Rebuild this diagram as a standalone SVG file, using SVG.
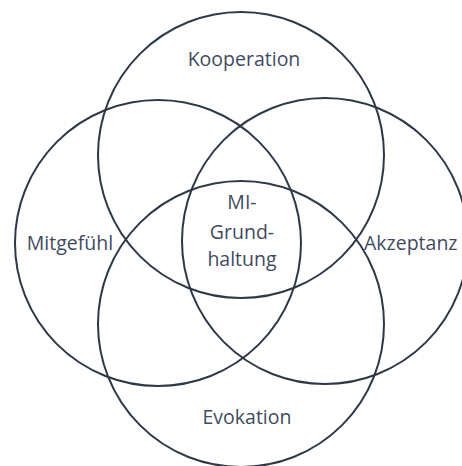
<svg xmlns="http://www.w3.org/2000/svg" width="462" height="466" viewBox="0 0 462 466">
<style>
.c{fill:none;stroke:#2e3847;stroke-width:2}
.t{font-family:"Open Sans","Noto Sans","Liberation Sans",sans-serif;font-size:19.5px;fill:#3f4b60;text-anchor:middle}
</style>
<rect width="462" height="466" fill="#ffffff"/>
<g id="connectors"></g>
<g id="kooperation"><circle class="c" cx="241" cy="155" r="143"/><text class="t" x="244" y="66">Kooperation</text></g>
<g id="mitgefuehl"><circle class="c" cx="158" cy="243" r="143"/><text class="t" x="70" y="250">Mitgefühl</text></g>
<g id="akzeptanz"><circle class="c" cx="325" cy="241" r="143"/><text class="t" x="364" y="250" style="text-anchor:start">Akzeptanz</text></g>
<g id="evokation"><circle class="c" cx="241" cy="324" r="143"/><text class="t" x="247" y="424">Evokation</text></g>
<g id="mi-grundhaltung"><text class="t" x="242" y="209">MI-</text><text class="t" x="242" y="239">Grund-</text><text class="t" x="242" y="266">haltung</text></g>
</svg>
